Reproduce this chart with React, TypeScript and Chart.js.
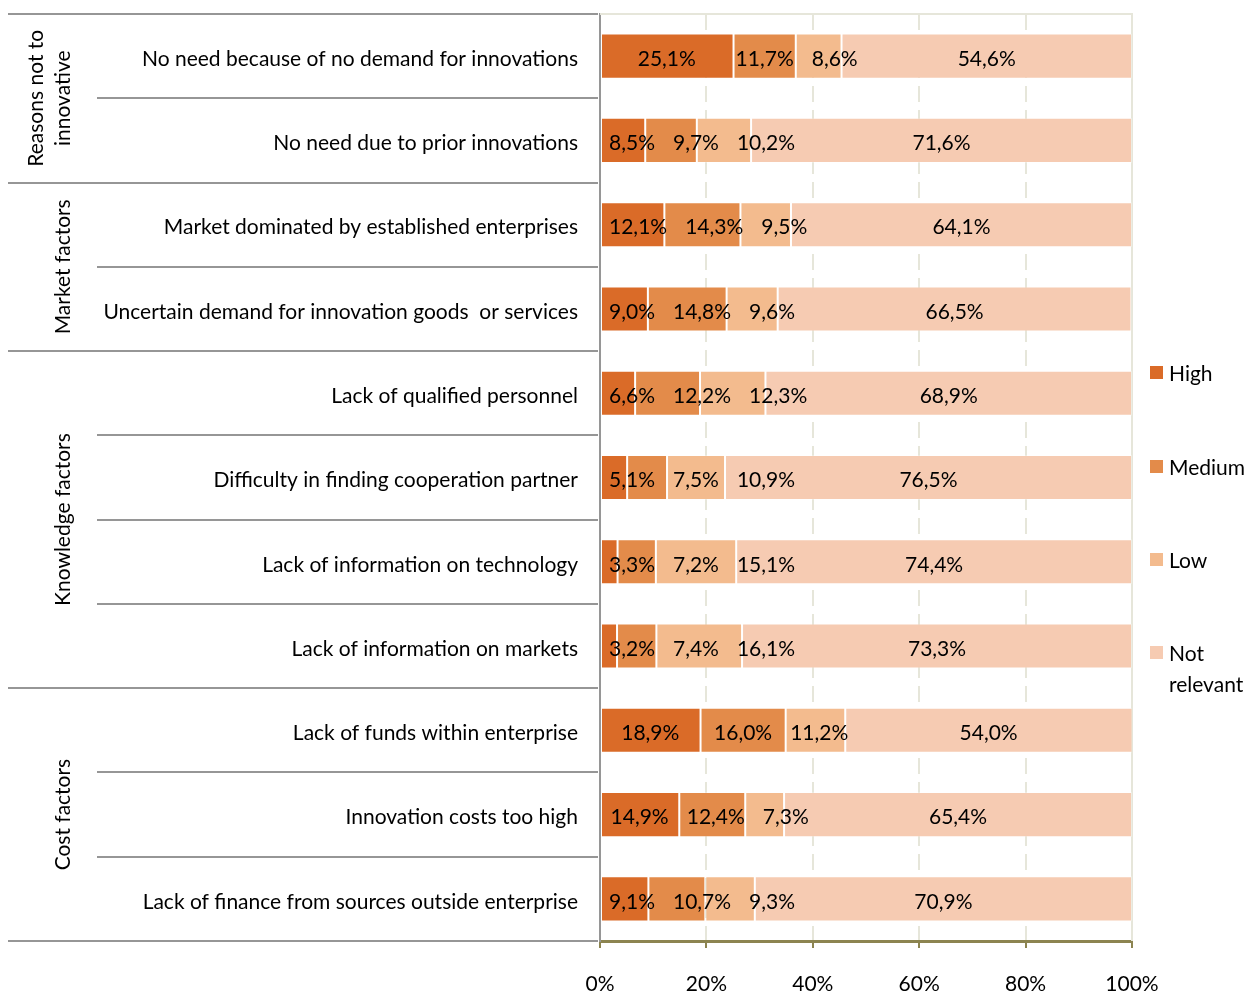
import React, { useEffect, useRef } from "react";
import { Chart, registerables } from "chart.js";

Chart.register(...registerables);

const categories = [
  "No need because of no demand for innovations",
  "No need due to prior innovations",
  "Market dominated by established enterprises",
  "Uncertain demand for innovation goods  or services",
  "Lack of qualified personnel",
  "Difficulty in finding cooperation partner",
  "Lack of information on technology",
  "Lack of information on markets",
  "Lack of funds within enterprise",
  "Innovation costs too high",
  "Lack of finance from sources outside enterprise",
];

const groupLabels = [["Reasons not to", "innovative"], ["Market factors"], ["Knowledge factors"], ["Cost factors"]];
const groupSizes = [2, 2, 4, 3];

const seriesNames = ["High", "Medium", "Low", "Not relevant"];
const high = [25.1, 8.5, 12.1, 9.0, 6.6, 5.1, 3.3, 3.2, 18.9, 14.9, 9.1];
const medium = [11.7, 9.7, 14.3, 14.8, 12.2, 7.5, 7.2, 7.4, 16.0, 12.4, 10.7];
const low = [8.6, 10.2, 9.5, 9.6, 12.3, 10.9, 15.1, 16.1, 11.2, 7.3, 9.3];
const notRelevant = [54.6, 71.6, 64.1, 66.5, 68.9, 76.5, 74.4, 73.3, 54.0, 65.4, 70.9];
const xTicks = [0, 20, 40, 60, 80, 100];

const seriesColors = ["#DA6B28", "#E38B4A", "#F3BB8E", "#F6CBB2"];

const FONT = "Lato, 'Noto Sans', sans-serif";
const FS = 21;

const fmt = (v: number) => v.toFixed(1).replace(".", ",") + "%";

const decorPlugin = {
  id: "decor",
  beforeDatasetsDraw(chart: any) {
    const { ctx, chartArea } = chart;
    ctx.save();
    ctx.strokeStyle = "#E6E6DA";
    ctx.lineWidth = 2;
    ctx.beginPath();
    ctx.moveTo(chartArea.left, chartArea.top);
    ctx.lineTo(chartArea.right, chartArea.top);
    ctx.lineTo(chartArea.right, chartArea.bottom);
    ctx.stroke();
    ctx.restore();
  },
  afterDatasetsDraw(chart: any) {
    const { ctx, chartArea } = chart;
    const yScale = chart.scales.y;
    const xScale = chart.scales.x;
    const pad = 9;
    ctx.save();
    ctx.font = `${FS}px ${FONT}`;
    ctx.fillStyle = "#000";
    ctx.textBaseline = "middle";
    ctx.textAlign = "left";
    for (let i = 0; i < categories.length; i++) {
      let prevRight = -Infinity;
      let cum = 0;
      const y = yScale.getPixelForValue(i);
      chart.data.datasets.forEach((ds: any) => {
        const v = ds.data[i];
        const x0 = xScale.getPixelForValue(cum);
        const x1 = xScale.getPixelForValue(Math.min(100, cum + v));
        cum += v;
        const text = fmt(v);
        const w = ctx.measureText(text).width;
        const bw = w + pad * 2;
        let left = (x0 + x1) / 2 - bw / 2;
        if (left < chartArea.left) left = chartArea.left;
        if (left < prevRight) left = prevRight;
        ctx.fillText(text, left + pad, y + 3);
        prevRight = left + bw;
      });
    }
    ctx.restore();
  },
  afterDraw(chart: any) {
    const { ctx, chartArea } = chart;
    const yScale = chart.scales.y;
    const n = categories.length;
    const boundary = (i: number) => {
      if (i <= 0) return chartArea.top;
      if (i >= n) return chartArea.bottom;
      return (yScale.getPixelForValue(i - 1) + yScale.getPixelForValue(i)) / 2;
    };
    const axisX = chartArea.left - 2;
    ctx.save();
    ctx.strokeStyle = "#969696";
    ctx.lineWidth = 2;
    const groupStarts: number[] = [0];
    groupSizes.forEach((s) => groupStarts.push(groupStarts[groupStarts.length - 1] + s));
    for (let i = 0; i <= n; i++) {
      const y = Math.round(boundary(i));
      const isGroup = groupStarts.includes(i);
      ctx.beginPath();
      ctx.moveTo(isGroup ? 8 : 97, y);
      ctx.lineTo(axisX, y);
      ctx.stroke();
    }
    ctx.fillStyle = "#000";
    ctx.font = `${FS}px ${FONT}`;
    ctx.textAlign = "center";
    ctx.textBaseline = "middle";
    groupLabels.forEach((lines, g) => {
      const yc = (boundary(groupStarts[g]) + boundary(groupStarts[g + 1])) / 2;
      lines.forEach((line, li) => {
        const x = lines.length === 1 ? 63 : 36 + li * 27;
        ctx.save();
        ctx.translate(x, yc);
        ctx.rotate(-Math.PI / 2);
        ctx.fillText(line, 0, 0);
        ctx.restore();
      });
    });
    const legendY = [372, 466, 559, 652];
    ctx.textAlign = "left";
    chart.data.datasets.forEach((ds: any, i: number) => {
      const y = legendY[i];
      ctx.fillStyle = ds.backgroundColor;
      ctx.fillRect(1150, y - 6, 13, 13);
      ctx.fillStyle = "#000";
      const words = ds.label.split(" ");
      words.forEach((w: string, k: number) => ctx.fillText(w, 1169, y + 2 + k * 31));
    });
    ctx.restore();
  },
};

export default function App() {
  const ref = useRef<HTMLCanvasElement>(null);
  useEffect(() => {
    if (!ref.current) return;
    const chart = new Chart(ref.current, {
      type: "bar",
      data: {
        labels: categories,
        datasets: [high, medium, low, notRelevant].map((d, i) => ({
          label: seriesNames[i],
          data: d,
          backgroundColor: seriesColors[i],
          borderColor: "rgba(255,255,255,0.28)",
          borderWidth: 1,
          borderSkipped: false,
          categoryPercentage: 0.535,
          barPercentage: 1,
        })),
      },
      options: {
        indexAxis: "y",
        animation: false,
        responsive: false,
        devicePixelRatio: 1,
        layout: { padding: { top: 14, right: 117, left: 0, bottom: 0 } },
        plugins: { legend: { display: false }, tooltip: { enabled: false }, title: { display: false } },
        scales: {
          x: {
            stacked: true,
            min: 0,
            max: 100,
            afterFit: (s: any) => {
              s.height = 51;
              s.paddingLeft = 0;
              s.paddingRight = 0;
            },
            afterBuildTicks: (s: any) => {
              s.ticks = xTicks.map((v) => ({ value: v }));
            },
            ticks: {
              callback: (v: any) => v + "%",
              color: "#000",
              font: { family: FONT, size: FS },
              padding: 24,
              maxRotation: 0,
            },
            grid: {
              color: (c: any) => (c.index === 0 ? "rgba(0,0,0,0)" : "#E6E6DA"),
              lineWidth: 2,
              tickLength: 7,
              tickColor: "#8C8450",
              tickWidth: 2,
              tickBorderDash: [],
            },
            border: { display: true, color: "#8C8450", width: 3, dash: [16, 8] },
          },
          y: {
            stacked: true,
            afterFit: (s: any) => {
              s.width = 600;
              s.paddingTop = 0;
              s.paddingBottom = 0;
            },
            ticks: {
              color: "#000",
              font: { family: FONT, size: FS },
              padding: 22,
              labelOffset: 3,
              autoSkip: false,
            },
            grid: { display: false, drawTicks: false },
            border: { display: true, color: "#969696", width: 2 },
          },
        },
      },
      plugins: [decorPlugin],
    });
    return () => chart.destroy();
  }, []);
  return (
    <div style={{ position: "fixed", left: 0, top: 0, width: 1249, height: 992, background: "#fff" }}>
      <canvas ref={ref} width={1249} height={992} style={{ width: 1249, height: 992, display: "block" }} />
    </div>
  );
}
